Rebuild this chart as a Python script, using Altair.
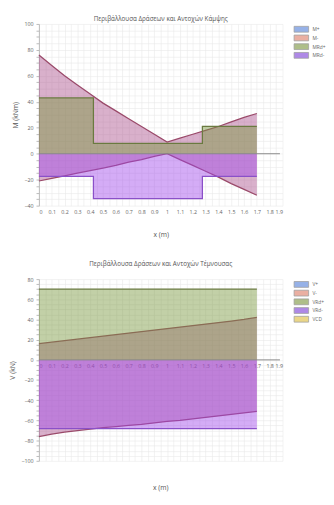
import altair as alt
import pandas as pd

# ---------------- data ----------------
x_pts = [0.0, 0.1, 0.2, 0.3, 0.4, 0.5, 0.6, 0.7, 0.8, 0.9, 1.0, 1.1, 1.2, 1.3, 1.4, 1.5, 1.6, 1.7]
m_pos = [76, 68, 60, 53, 46, 39, 33, 27, 21, 15, 9, 12, 15, 18, 21, 24.5, 28, 31]
m_neg = [-21, -19, -17, -15, -13, -11, -9, -6.5, -4.5, -2, 0, -4.5, -9, -13.5, -18, -23, -27.5, -32]
mrd_x = [0.0, 0.425, 1.275, 1.7]
mrd_pos = [43, 8, 21, 21]
mrd_neg = [-17.5, -34.5, -17.5, -17.5]

v_pos = [16, 17.5, 19, 20.5, 22, 23.5, 25, 26.5, 28, 29.5, 31, 32.5, 34, 35.5, 37, 38.5, 40, 42]
v_neg = [-76, -73.5, -71.5, -70, -68.5, -67, -66, -65, -64, -62.5, -61, -60, -58.5, -57, -55.5, -54, -52.5, -51]
vrd_x = [0.0, 1.7]
vrd_pos = [70, 70]
vrd_neg = [-68, -68]

m_labels = ["M+", "M-", "MRd+", "MRd-"]
v_labels = ["V+", "V-", "VRd+", "VRd-", "VCD"]
legend_colors = ["#7c9ee2", "#e59c8c", "#9aae6c", "#9a6be0", "#e6cd6a"]

x_ticks = [round(i * 0.05, 2) for i in range(0, 39)]
m_ticks = list(range(-40, 101, 5))
v_ticks = list(range(-100, 81, 5))

title_m = "Περιβάλλουσα Δράσεων και Αντοχών Κάμψης"
title_v = "Περιβάλλουσα Δράσεων και Αντοχών Τέμνουσας"

FONT = "Open Sans"
RED_FILL, RED_LINE = "#aa508c", "#9a4a6a"
GREEN_FILL, GREEN_LINE = "#78963c", "#6a7a40"
PURPLE_FILL, PURPLE_LINE = "#a046eb", "#8a50c8"

W, H = 252, 188


def make_xaxis(offset, show_title):
    return alt.Axis(
        values=x_ticks, format=".1~f",
        labelExpr="abs(datum.value*10 - round(datum.value*10)) < 0.01 ? datum.label : ''",
        title="x (m)" if show_title else None,
        labelFontSize=5.5, labelColor="#666", labelFont=FONT,
        titleFontSize=7, titleColor="#555", titleFont=FONT, titleFontWeight="normal",
        titlePadding=16,
        grid=True, gridColor="#e8e8e8", gridWidth=0.6,
        ticks=False, domain=False, labelPadding=4, offset=offset,
    )


def make_yaxis(yticks, ytitle):
    return alt.Axis(
        values=yticks,
        labelExpr="datum.value % 20 == 0 ? datum.label : ''",
        title=ytitle,
        labelFontSize=5.5, labelColor="#666", labelFont=FONT,
        titleFontSize=7, titleColor="#555", titleFont=FONT, titleFontWeight="normal",
        titlePadding=6,
        grid=True, gridColor="#e8e8e8", gridWidth=0.6,
        ticks=True, tickSize=3, tickColor="#bbb", domain=True, domainColor="#bbb",
        labelPadding=3,
    )


def text_layer(text, ypos, size=6.5):
    df = pd.DataFrame({"t": [text]})
    return alt.Chart(df).mark_text(fontSize=size, font=FONT, color="#555", baseline="middle").encode(
        text="t:N", x=alt.value(W / 2), y=alt.value(ypos)
    )


class Panel:
    def __init__(self, domain, xaxis, yaxis):
        self.X = alt.X("x:Q", scale=alt.Scale(domain=[0, 1.9], nice=False, zero=False), axis=xaxis)
        self.Y = alt.Y("y:Q", scale=alt.Scale(domain=domain, nice=False, zero=False), axis=yaxis)

    def series(self, xs, ys, fill, stroke, interp="linear"):
        df = pd.DataFrame({"x": xs, "y": ys})
        base = alt.Chart(df)
        a = base.mark_area(color=fill, opacity=0.45, interpolate=interp).encode(
            x=self.X, y=self.Y, y2=alt.datum(0)
        )
        l = base.mark_line(color=stroke, strokeWidth=1.3, interpolate=interp).encode(
            x=self.X, y=self.Y
        )
        return [a, l]

    def zero_rule(self):
        df = pd.DataFrame({"x": [0.0], "x2": [1.88], "y": [0.0]})
        return alt.Chart(df).mark_rule(color="#888", strokeWidth=1).encode(
            x=self.X, x2="x2:Q", y=self.Y
        )

    def legend(self, labels, colors):
        df = pd.DataFrame({"x": [-1.0] * len(labels), "y": [0.0] * len(labels), "s": labels})
        return alt.Chart(df).mark_square(clip=True, opacity=0.8).encode(
            x=self.X, y=self.Y,
            color=alt.Color(
                "s:N",
                scale=alt.Scale(domain=labels, range=colors),
                sort=labels,
                legend=alt.Legend(
                    title=None, orient="none", legendX=W + 16, legendY=2,
                    symbolType="M-2.5,-1H2.5V1H-2.5Z", symbolSize=36,
                    symbolStrokeWidth=0.8, symbolStrokeColor="#888",
                    labelFontSize=5, labelColor="#666", labelFont=FONT,
                    rowPadding=-2, labelOffset=8,
                ),
            ),
        )


m_dom = [-40, 100]
v_dom = [-100, 80]

P1 = Panel(m_dom, make_xaxis(0, True), make_yaxis(m_ticks, "M (kNm)"))
top_layers = []
top_layers += P1.series(x_pts, m_pos, RED_FILL, RED_LINE)
top_layers += P1.series(x_pts, m_neg, RED_FILL, RED_LINE)
top_layers += P1.series(mrd_x, mrd_pos, GREEN_FILL, GREEN_LINE, "step-after")
top_layers += P1.series(mrd_x, mrd_neg, PURPLE_FILL, PURPLE_LINE, "step-after")
top_layers += [P1.zero_rule(), P1.legend(m_labels, legend_colors[:4]), text_layer(title_m, -5)]

top = alt.layer(*top_layers).properties(width=W, height=H)

v_zero_offset = -(H * 100 / 180)
P2 = Panel(v_dom, make_xaxis(v_zero_offset, False), make_yaxis(v_ticks, "V (kN)"))

bot_layers = []
bot_layers += P2.series(x_pts, v_pos, RED_FILL, RED_LINE)
bot_layers += P2.series(x_pts, v_neg, RED_FILL, RED_LINE)
bot_layers += P2.series(vrd_x, vrd_pos, GREEN_FILL, GREEN_LINE)
bot_layers += P2.series(vrd_x, vrd_neg, PURPLE_FILL, PURPLE_LINE)
bot_layers += [P2.zero_rule(), P2.legend(v_labels, legend_colors),
               text_layer(title_v, -16), text_layer("x (m)", H + 28, 7)]

bottom = alt.layer(*bot_layers).properties(width=W, height=H)

chart = alt.vconcat(top, bottom, spacing=24).properties(
    padding={"left": 0, "top": 0, "right": 0, "bottom": 0}
).configure_view(strokeWidth=0).resolve_scale(color="independent")

chart.save("out.html", embed_options={"renderer": "svg", "actions": False})
